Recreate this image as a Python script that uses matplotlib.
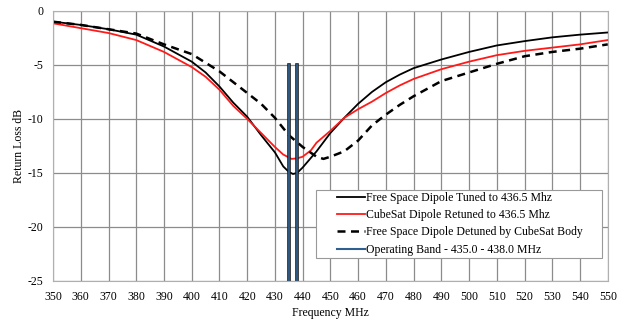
import numpy as np
import matplotlib.pyplot as plt
import matplotlib.patheffects as pe
from matplotlib.lines import Line2D
from matplotlib.patches import Rectangle

plt.rcParams['font.family'] = ['Liberation Serif', 'DejaVu Serif']
plt.rcParams['axes.unicode_minus'] = False

# ---- data ----
freq_tuned = [350, 360, 370, 380, 390, 400, 405, 410, 415, 420, 425, 430, 433, 435, 436.5, 438, 440, 443, 445, 450, 455, 460, 465, 470, 475, 480, 490, 500, 510, 520, 530, 540, 550]
rl_tuned = [-1.0, -1.3, -1.7, -2.2, -3.3, -4.7, -5.7, -7.0, -8.5, -9.8, -11.5, -13.1, -14.4, -14.9, -15.1, -15.0, -14.5, -13.6, -13.0, -11.3, -9.9, -8.6, -7.5, -6.6, -5.9, -5.3, -4.5, -3.8, -3.2, -2.8, -2.45, -2.2, -2.0]

freq_cubesat = [350, 360, 370, 380, 390, 400, 405, 410, 415, 420, 425, 430, 433, 436, 438, 440, 443, 445, 450, 455, 460, 465, 470, 475, 480, 490, 500, 510, 520, 530, 540, 550]
rl_cubesat = [-1.15, -1.6, -2.05, -2.7, -3.8, -5.2, -6.1, -7.3, -8.8, -10.0, -11.3, -12.6, -13.3, -13.7, -13.65, -13.5, -12.9, -12.2, -11.1, -9.9, -9.1, -8.4, -7.6, -6.9, -6.3, -5.4, -4.7, -4.1, -3.7, -3.4, -3.1, -2.7]

freq_detuned = [350, 360, 370, 380, 390, 400, 410, 420, 425, 430, 435, 440, 445, 447.5, 450, 455, 460, 465, 470, 475, 480, 490, 500, 510, 520, 530, 540, 550]
rl_detuned = [-1.0, -1.3, -1.7, -2.1, -3.1, -4.0, -5.6, -7.6, -8.6, -9.9, -11.5, -12.6, -13.5, -13.7, -13.5, -13.0, -12.0, -10.6, -9.6, -8.7, -7.9, -6.5, -5.7, -4.9, -4.2, -3.8, -3.5, -3.1]

band_edges = [435.0, 438.0]
band_top = -5
y_min, y_max = -25, 0

labels = ['Free Space Dipole Tuned to 436.5 Mhz',
          'CubeSat Dipole Retuned to 436.5 Mhz',
          'Free Space Dipole Detuned by CubeSat Body',
          'Operating Band - 435.0 - 438.0 MHz']
band_color = '#2f5f8f'
dash = (0, (3.2, 2.2))

fig = plt.figure(figsize=(6.24, 3.2), dpi=100)
ax = fig.add_axes([0.085, 0.122, 0.889, 0.844])

ax.plot(freq_tuned, rl_tuned, color='black', lw=1.3)
ax.plot(freq_cubesat, rl_cubesat, color='#ff1a1a', lw=1.3)
ax.plot(freq_detuned, rl_detuned, color='black', lw=1.8, ls=dash)

for f in band_edges:
    ax.plot([f, f], [y_min, band_top], color=band_color, lw=1.3,
            path_effects=[pe.Stroke(linewidth=2.6, foreground='#1a1a1a'), pe.Normal()])

ax.set_xlim(350, 550)
ax.set_ylim(y_min, y_max)
ax.set_xticks(np.arange(350, 551, 10))
ax.set_yticks(np.arange(-25, 1, 5))
ax.grid(True, color='#8c8c8c', lw=0.9)
ax.set_axisbelow(True)
for s in ax.spines.values():
    s.set_color('#b0b0b0')
ax.tick_params(length=0, labelsize=8.5, pad=7)
ax.set_xlabel('Frequency MHz', fontsize=8.5, labelpad=3)
ax.set_ylabel('Return Loss dB', fontsize=8.5, labelpad=2)

# legend: frame drawn separately so the left padding matches
ax.add_patch(Rectangle((0.474, 0.085), 0.515, 0.252, transform=ax.transAxes,
                       facecolor='white', edgecolor='#999999', lw=0.8, zorder=5))
handles = [Line2D([], [], color='black', lw=1.3),
           Line2D([], [], color='#ff1a1a', lw=1.3),
           Line2D([], [], color='black', lw=1.8, ls=dash),
           Line2D([], [], color=band_color, lw=1.5)]
leg = ax.legend(handles, labels, loc='upper left', bbox_to_anchor=(0.511, 0.33),
                fontsize=8.5, frameon=False, borderpad=0, borderaxespad=0,
                handlelength=2.4, handletextpad=0.1, labelspacing=0.45)
leg.set_zorder(6)

fig.savefig('out.png', dpi=100)
